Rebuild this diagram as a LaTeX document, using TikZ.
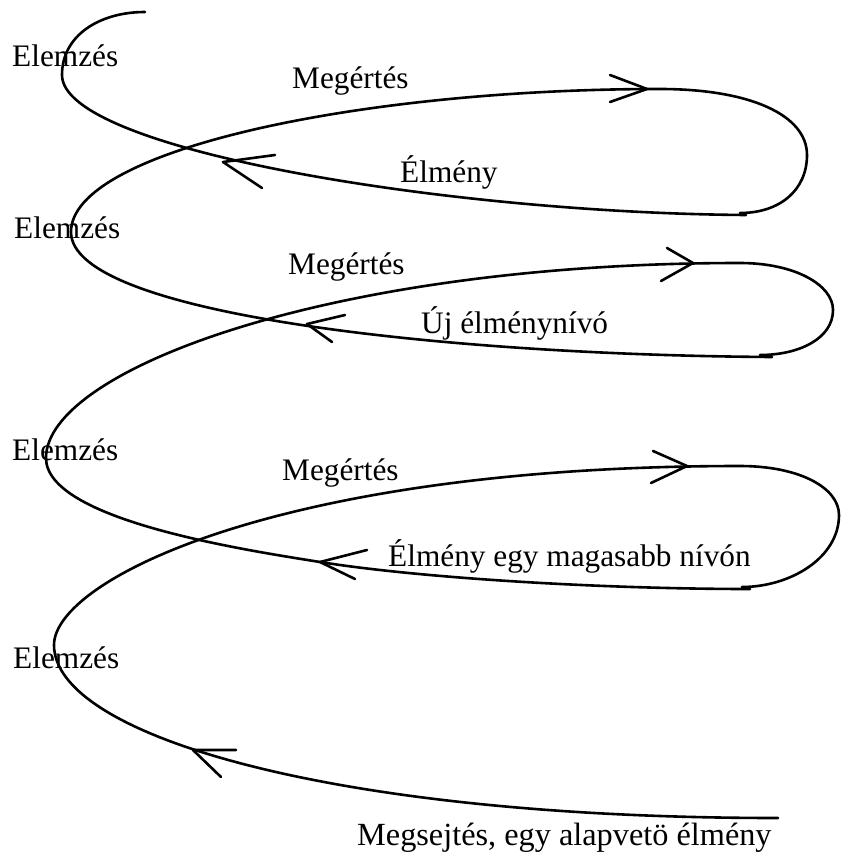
\documentclass[tikz,border=0pt]{standalone}
\usepackage{fontspec}
\setmainfont{Liberation Serif}
\usepackage{tikz}
\usetikzlibrary{positioning,calc}

\tikzset{
    lbl/.style={anchor=base west, inner sep=0pt, font=\fontsize{31.3}{37}\selectfont},
    spiral/.style={line width=2.6pt, line cap=round, line join=round},
}

\begin{document}
\begin{tikzpicture}[x=1pt, y=-1pt]
    \useasboundingbox (0,0) rectangle (841,856);

    % labels
    \node[lbl] (el1) at (12, 67) {Elemzés};
    \node[lbl] (me1) at (292, 89) {Megértés};
    \node[lbl] (elm1) at (400, 182) {Élmény};
    \node[lbl] (el2) at (14, 238) {Elemzés};
    \node[lbl] (me2) at (288, 274) {Megértés};
    \node[lbl] (uj) at (421, 333) {Új élménynívó};
    \node[lbl] (el3) at (12, 460) {Elemzés};
    \node[lbl] (me3) at (282, 480) {Megértés};
    \node[lbl] (elm3) at (388, 566) {Élmény egy magasabb nívón};
    \node[lbl] (el4) at (13, 668) {Elemzés};
    \node[lbl, font=\fontsize{32.3}{38}\selectfont] (megs) at (357, 845) {Megsejtés, egy alapvetö élmény};

    % points of the spiral
    \coordinate (start) at (778, 818);
    \coordinate (left4) at (54, 645);
    \coordinate (top3) at (740, 466);
    \coordinate (right3) at (839, 515);
    \coordinate (bot3) at (742, 587);
    \coordinate (bot3s) at (750, 589);
    \coordinate (tip3b) at (320, 562);
    \coordinate (left3) at (46, 458);
    \coordinate (top2) at (740, 263);
    \coordinate (right2) at (833, 310);
    \coordinate (bot2) at (760, 355);
    \coordinate (bot2s) at (772, 357);
    \coordinate (left2) at (71, 232);
    \coordinate (top1) at (660, 89);
    \coordinate (right1) at (807, 155);
    \coordinate (bot1) at (740, 213);
    \coordinate (bot1s) at (746, 215);
    \coordinate (left1) at (62, 75);
    \coordinate (stop) at (145, 12);

    % the spiral, from the bottom up
    \draw[spiral] (start) .. controls (330,818) and (54,735) .. (left4)
        .. controls (54,580) and (280,466) .. (top3)
        .. controls (800,466) and (839,488) .. (right3)
        .. controls (839,558) and (790,587) .. (bot3);
    \draw[spiral] (bot3s) .. controls (600,589) and (420,578) .. (tip3b)
        .. controls (245,550) and (46,520) .. (left3)
        .. controls (46,370) and (330,263) .. (top2)
        .. controls (795,263) and (833,285) .. (right2)
        .. controls (833,338) and (800,355) .. (bot2);
    \draw[spiral] (bot2s) .. controls (450,355) and (71,315) .. (left2)
        .. controls (71,150) and (360,89) .. (top1)
        .. controls (750,89) and (807,115) .. (right1)
        .. controls (807,190) and (780,213) .. (bot1);
    \draw[spiral] (bot1s) .. controls (450,213) and (62,150) .. (left1)
        .. controls (62,35) and (100,12) .. (stop);

    % arrow heads
    \foreach \tip/\ba/\bb in {
        {(193,750)}/{(236,750)}/{(221,777)},
        {(687,466)}/{(653,451)}/{(651,483)},
        {(320,562)}/{(367,550)}/{(355,579)},
        {(693,263)}/{(667,248)}/{(661,281)},
        {(307,324)}/{(345,315)}/{(332,342)},
        {(647,89)}/{(610,75)}/{(610,102)},
        {(223,162)}/{(275,155)}/{(262,188)}}
        \draw[spiral] \ba -- \tip -- \bb;
\end{tikzpicture}
\end{document}
